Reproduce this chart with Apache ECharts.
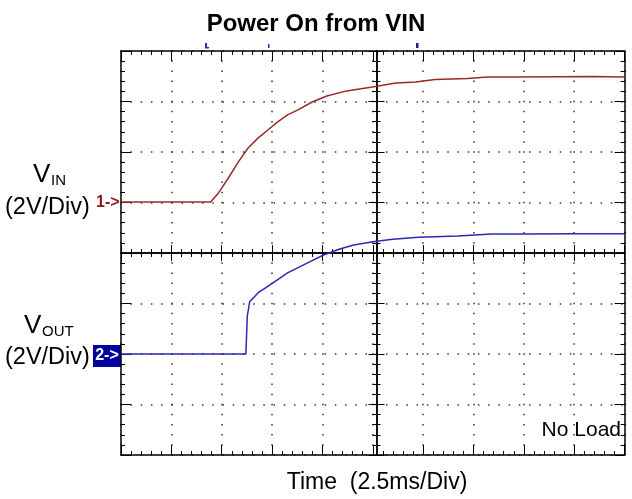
<!DOCTYPE html>
<html><head><meta charset="utf-8">
<script src="https://cdn.jsdelivr.net/npm/echarts/dist/echarts.min.js"></script>
<style>html,body{margin:0;padding:0;background:#fff}#c{width:632px;height:499px}</style>
</head><body><div id="c"></div>
<script>
// ---- data (time in ms, voltage in V) ----
const vinTimeMs = [0, 2, 4.45, 4.84, 5.33, 5.82, 6.31, 6.80, 7.29, 7.78, 8.27, 8.76, 9.49, 10.22, 11.2, 12.48, 13.65, 14.63, 15.6, 17.2, 18.2, 19.67, 23.4, 25];
const vinVolts  = [0.02, 0.02, 0.02, 0.38, 0.97, 1.60, 2.16, 2.55, 2.87, 3.19, 3.47, 3.66, 3.98, 4.22, 4.42, 4.57, 4.73, 4.77, 4.87, 4.91, 4.97, 4.97, 4.99, 4.97];
const voutTimeMs = [0, 3, 6.2, 6.27, 6.39, 6.8, 7.62, 8.27, 9.39, 10.06, 10.86, 11.55, 12.51, 13.49, 14.77, 16.73, 18.4, 20.0, 22.5, 25];
const voutVolts  = [0, 0, 0, 1.5, 2.07, 2.42, 2.86, 3.21, 3.66, 3.92, 4.16, 4.32, 4.45, 4.54, 4.62, 4.67, 4.75, 4.75, 4.76, 4.76];

// ---- scales ----
const timeRangeMs = [0, 25];
const timePerDivMs = 2.5;
const ch1RangeV = [-10, 6];
const ch2RangeV = [-4, 12];
const voltsPerDiv = 2;
const xDivRange = [0, 10];
const yDivRange = [0, 8];

const titleText = 'Power On from VIN';
const xAxisName = 'Time  (2.5ms/Div)';
const noteText = 'No Load';

const FONT = '"Liberation Sans", Arial, sans-serif';
const BLACK = '#000';

function zip(a, b) { return a.map((v, i) => [v, b[i]]); }

// tick labels exist (ticks follow them) but sit inside the plot, fully transparent
const ghostLabel = { show: true, inside: true, color: 'rgba(0,0,0,0)', fontSize: 8 };

function tickAxis(o, majorLen, minorLen) {
  return Object.assign({
    type: 'value',
    axisLabel: ghostLabel,
    axisLine: { show: true, onZero: false, lineStyle: { color: BLACK, width: 1.5 } },
    axisTick: { show: true, inside: true, length: majorLen, lineStyle: { color: BLACK } },
    minorTick: { show: true, splitNumber: 5, length: minorLen, lineStyle: { color: BLACK } }
  }, o);
}
function hiddenAxis(gridIndex) {
  return { type: 'value', gridIndex: gridIndex, show: false, min: 0, max: 1 };
}

const L = 121, T = 51, W = 511, H = 404;

const chart = echarts.init(document.getElementById('c'), null, { renderer: 'canvas' });
chart.setOption({
  animation: false,
  backgroundColor: '#fff',
  title: {
    text: titleText, left: 'center', top: 7,
    textStyle: { fontSize: 24, fontWeight: 'bold', color: BLACK, fontFamily: FONT }
  },
  grid: [
    { left: L, top: T, width: W, height: H },
    { left: L, top: T, width: W, height: H / 2 },
    { left: L, top: T + H / 2, width: W, height: H / 2 },
    { left: L, top: T, width: W / 2, height: H },
    { left: L + W / 2, top: T, width: W / 2, height: H }
  ],
  xAxis: [
    tickAxis({
      gridIndex: 0, min: timeRangeMs[0], max: timeRangeMs[1], interval: timePerDivMs, position: 'bottom',
      splitLine: { show: true, lineStyle: { color: '#333', width: 1.5, type: [1.5, 8.6], dashOffset: 0.75 } }
    }, 10, 4),
    tickAxis({ gridIndex: 0, min: timeRangeMs[0], max: timeRangeMs[1], interval: timePerDivMs, position: 'top', splitLine: { show: false } }, 10, 4),
    tickAxis({ gridIndex: 1, min: xDivRange[0], max: xDivRange[1], interval: 1, position: 'bottom', splitLine: { show: false } }, 8, 4),
    tickAxis({ gridIndex: 2, min: xDivRange[0], max: xDivRange[1], interval: 1, position: 'top', splitLine: { show: false } }, 8, 4),
    hiddenAxis(3),
    hiddenAxis(4)
  ],
  yAxis: [
    tickAxis({
      gridIndex: 0, min: ch1RangeV[0], max: ch1RangeV[1], interval: voltsPerDiv, position: 'left',
      splitLine: { show: true, lineStyle: { color: '#333', width: 1.5, type: [1.5, 8.72], dashOffset: 0.75 } }
    }, 10, 4),
    tickAxis({ gridIndex: 0, min: ch2RangeV[0], max: ch2RangeV[1], interval: voltsPerDiv, position: 'right', splitLine: { show: false } }, 10, 4),
    hiddenAxis(1),
    hiddenAxis(2),
    tickAxis({ gridIndex: 3, min: yDivRange[0], max: yDivRange[1], interval: 1, position: 'right', splitLine: { show: false } }, 8, 4),
    tickAxis({ gridIndex: 4, min: yDivRange[0], max: yDivRange[1], interval: 1, position: 'left', splitLine: { show: false } }, 8, 4)
  ],
  series: [
    {
      name: 'VIN', type: 'line', xAxisIndex: 0, yAxisIndex: 0,
      data: zip(vinTimeMs, vinVolts), showSymbol: false, symbol: 'none',
      lineStyle: { color: '#9b2a2a', width: 1.5 }, z: 5
    },
    {
      name: 'VOUT', type: 'line', xAxisIndex: 0, yAxisIndex: 1,
      data: zip(voutTimeMs, voutVolts), showSymbol: false, symbol: 'none',
      lineStyle: { color: '#2a2ab5', width: 1.5 }, z: 5
    }
  ],
  graphic: [
    { type: 'text', x: 377, y: 483, style: { text: xAxisName, fontSize: 23, fontFamily: FONT, fill: BLACK, textAlign: 'center', textVerticalAlign: 'middle' } },
    { type: 'text', x: 33, y: 188, style: { text: 'V', fontSize: 26, fontFamily: FONT, fill: BLACK, textVerticalAlign: 'bottom' } },
    { type: 'text', x: 51, y: 188, style: { text: 'IN', fontSize: 15, fontFamily: FONT, fill: BLACK, textVerticalAlign: 'bottom' } },
    { type: 'text', x: 5, y: 208, style: { text: '(2V/Div)', fontSize: 23.5, fontFamily: FONT, fill: BLACK, textVerticalAlign: 'middle' } },
    { type: 'text', x: 96, y: 203, style: { text: '1->', fontSize: 16, fontWeight: 'bold', fontFamily: FONT, fill: '#8b1a1a', textVerticalAlign: 'middle' } },
    { type: 'text', x: 24, y: 339, style: { text: 'V', fontSize: 26, fontFamily: FONT, fill: BLACK, textVerticalAlign: 'bottom' } },
    { type: 'text', x: 42, y: 339, style: { text: 'OUT', fontSize: 15, fontFamily: FONT, fill: BLACK, textVerticalAlign: 'bottom' } },
    { type: 'text', x: 5, y: 358, style: { text: '(2V/Div)', fontSize: 23.5, fontFamily: FONT, fill: BLACK, textVerticalAlign: 'middle' } },
    { type: 'rect', shape: { x: 93, y: 345, width: 28, height: 22 }, style: { fill: '#0000a0' } },
    { type: 'text', x: 107, y: 356, style: { text: '2->', fontSize: 16, fontWeight: 'bold', fontFamily: FONT, fill: '#fff', textAlign: 'center', textVerticalAlign: 'middle' } },
    { type: 'text', x: 621, y: 430, style: { text: noteText, fontSize: 21, fontFamily: FONT, fill: BLACK, textAlign: 'right', textVerticalAlign: 'middle' } },
    { type: 'rect', shape: { x: 205, y: 43, width: 2, height: 5 }, style: { fill: '#3030a0' } },
    { type: 'rect', shape: { x: 205, y: 47, width: 4, height: 1.5 }, style: { fill: '#3030a0' } },
    { type: 'rect', shape: { x: 268, y: 44, width: 1.5, height: 4 }, style: { fill: '#3030a0' } },
    { type: 'rect', shape: { x: 416, y: 43, width: 2.5, height: 5 }, style: { fill: '#202090' } }
  ]
});
</script>
</body></html>
